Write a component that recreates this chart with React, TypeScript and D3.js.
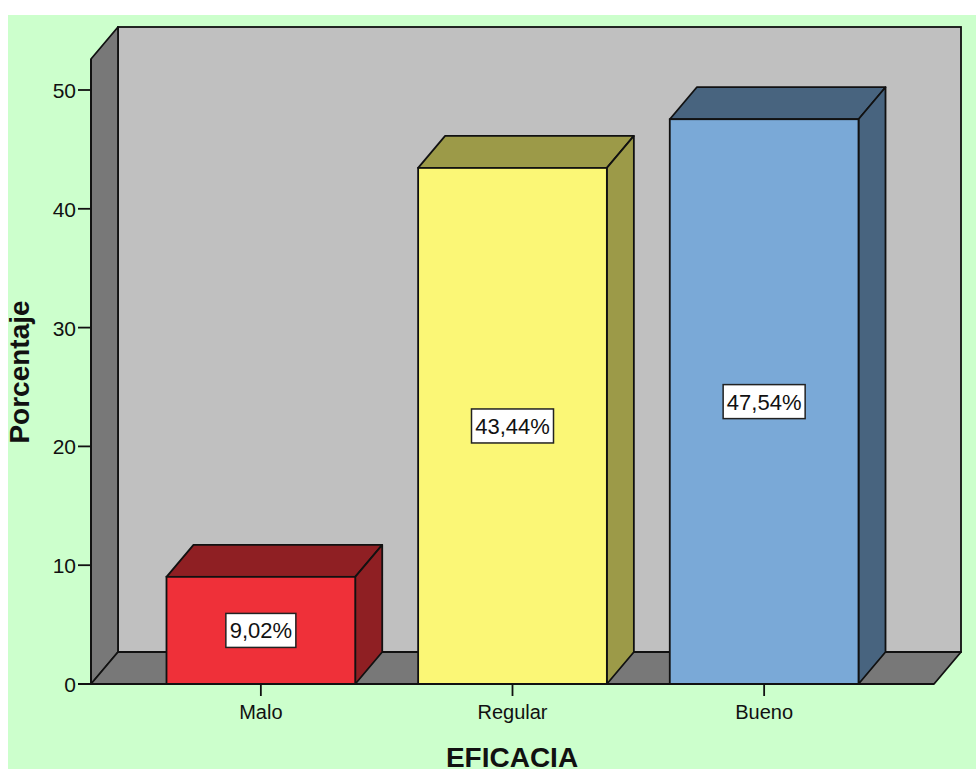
import React from 'react';
import * as d3 from 'd3';

// chart data
const categories = ['Malo', 'Regular', 'Bueno'];
const percentages = [9.02, 43.44, 47.54];
const valueLabels = ['9,02%', '43,44%', '47,54%'];
const yTicks = [0, 10, 20, 30, 40, 50];

const frontColors = ['#ef3039', '#fbf776', '#7aa9d7'];
const darkColors = ['#8f1f23', '#9c9a48', '#48647f'];

const width = 976;
const height = 769;
const depthX = 27;
const depthY = 32;
const x0 = 91;
const x1 = 934;
const yBase = 684;
const yTop = 59;
const font = 'Arial, "Liberation Sans", sans-serif';

const App = () => {
  const xScale = d3.scaleBand<string>()
    .domain(categories)
    .range([x0, x1])
    .paddingInner(0.25)
    .paddingOuter(0.3);

  const yScale = d3.scaleLinear().domain([0, 50]).range([yBase, 90]);

  const pts = (p: number[][]) => p.map(d => d.join(',')).join(' ');

  return (
    <div style={{ position: 'absolute', left: 0, top: 0 }}>
      <svg width={width} height={height} style={{ display: 'block' }}>
        <rect x={0} y={0} width={width} height={height} fill="#ffffff" />
        <rect x={8} y={15} width={width - 8} height={height - 15} fill="#ccffcc" />

        {/* back wall */}
        <rect x={x0 + depthX} y={yTop - depthY} width={x1 - x0} height={yBase - yTop}
          fill="#c0c0c0" stroke="#111" strokeWidth={1.8} />
        {/* left wall */}
        <polygon points={pts([[x0, yTop], [x0 + depthX, yTop - depthY], [x0 + depthX, yBase - depthY], [x0, yBase]])}
          fill="#787878" stroke="#111" strokeWidth={1.8} strokeLinejoin="round" />
        {/* floor */}
        <polygon points={pts([[x0, yBase], [x0 + depthX, yBase - depthY], [x1 + depthX, yBase - depthY], [x1, yBase]])}
          fill="#787878" stroke="#111" strokeWidth={1.8} strokeLinejoin="round" />

        {/* bars */}
        {categories.map((c, i) => {
          const bx = xScale(c) as number;
          const bw = xScale.bandwidth();
          const by = yScale(percentages[i]);
          return (
            <g key={c}>
              <polygon points={pts([[bx, by], [bx + depthX, by - depthY], [bx + bw + depthX, by - depthY], [bx + bw, by]])}
                fill={darkColors[i]} stroke="#111" strokeWidth={1.8} strokeLinejoin="round" />
              <polygon points={pts([[bx + bw, by], [bx + bw + depthX, by - depthY], [bx + bw + depthX, yBase - depthY], [bx + bw, yBase]])}
                fill={darkColors[i]} stroke="#111" strokeWidth={1.8} strokeLinejoin="round" />
              <rect x={bx} y={by} width={bw} height={yBase - by}
                fill={frontColors[i]} stroke="#111" strokeWidth={1.8} />
            </g>
          );
        })}

        {/* value labels */}
        {categories.map((c, i) => {
          const cx = (xScale(c) as number) + xScale.bandwidth() / 2;
          const cy = (yScale(percentages[i]) + yBase) / 2;
          const w = valueLabels[i].length * 12 + 10;
          return (
            <g key={'l' + c}>
              <rect x={cx - w / 2} y={cy - 17} width={w} height={34} fill="#ffffff" stroke="#222" strokeWidth={1.5} />
              <text x={cx} y={cy + 8} textAnchor="middle" fontFamily={font} fontSize={22} fill="#111">{valueLabels[i]}</text>
            </g>
          );
        })}

        {/* y axis */}
        <line x1={x0} x2={x0} y1={yTop} y2={yBase} stroke="#111" strokeWidth={1.8} />
        {yTicks.map(t => (
          <g key={t}>
            <line x1={x0 - 13} x2={x0} y1={yScale(t)} y2={yScale(t)} stroke="#111" strokeWidth={1.8} />
            <text x={x0 - 15} y={yScale(t) + 8} textAnchor="end" fontFamily={font} fontSize={21} fill="#111">{t}</text>
          </g>
        ))}

        {/* x axis */}
        <line x1={x0 - 13} x2={x1} y1={yBase} y2={yBase} stroke="#111" strokeWidth={1.8} />
        {categories.map(c => {
          const cx = (xScale(c) as number) + xScale.bandwidth() / 2;
          return (
            <g key={'t' + c}>
              <line x1={cx} x2={cx} y1={yBase} y2={yBase + 12} stroke="#111" strokeWidth={1.8} />
              <text x={cx} y={yBase + 35} textAnchor="middle" fontFamily={font} fontSize={20} fill="#111">{c}</text>
            </g>
          );
        })}

        <text x={512} y={767} textAnchor="middle" fontFamily={font} fontSize={28} fontWeight="bold" fill="#111">EFICACIA</text>
        <text transform={`translate(29,372) rotate(-90)`} textAnchor="middle" fontFamily={font} fontSize={28} fontWeight="bold" fill="#111">Porcentaje</text>
      </svg>
    </div>
  );
};

export default App;
